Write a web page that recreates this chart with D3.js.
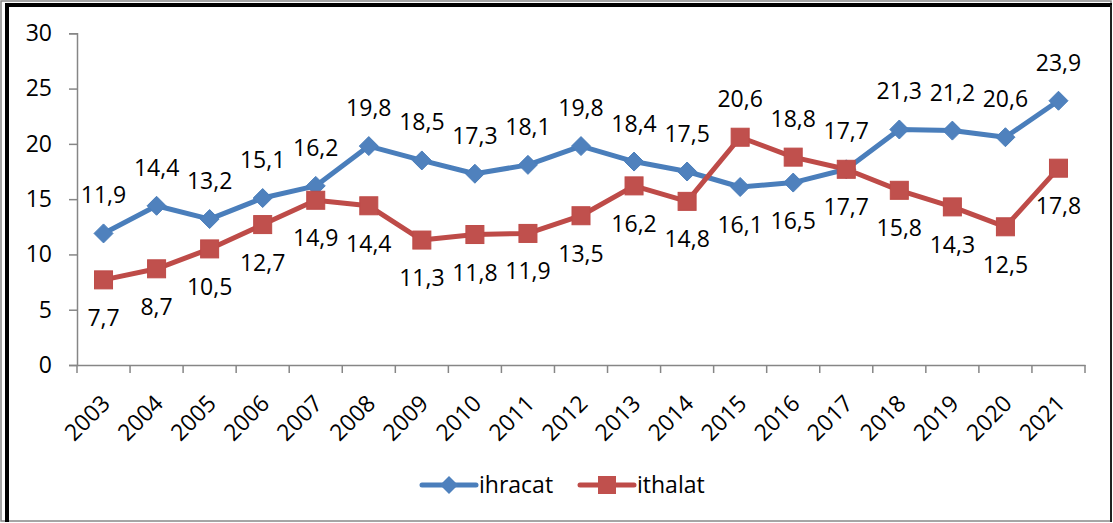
<!DOCTYPE html>
<html><head><meta charset="utf-8">
<script src="https://cdn.jsdelivr.net/npm/d3@7/dist/d3.min.js"></script>
<style>body{margin:0;background:#fff}svg{display:block}text{font-family:"Open Sans",sans-serif}</style>
</head><body><svg id="c" width="1113" height="523"></svg>
<script>
const years = ["2003","2004","2005","2006","2007","2008","2009","2010","2011","2012","2013","2014","2015","2016","2017","2018","2019","2020","2021"];
const ihracat = [11.9,14.4,13.2,15.1,16.2,19.8,18.5,17.3,18.1,19.8,18.4,17.5,16.1,16.5,17.7,21.3,21.2,20.6,23.9];
const ithalat = [7.7,8.7,10.5,12.7,14.9,14.4,11.3,11.8,11.9,13.5,16.2,14.8,20.6,18.8,17.7,15.8,14.3,12.5,17.8];
const yTicks = [0,5,10,15,20,25,30];
const seriesNames = ["ihracat","ithalat"];

const svg = d3.select("#c");
const FS = 23;
// border
svg.append("rect").attr("x",1).attr("y",1).attr("width",1110).attr("height",520).attr("fill","none").attr("stroke","#888").attr("stroke-width",1.5);
svg.append("line").attr("x1",7).attr("x2",7).attr("y1",3).attr("y2",522).attr("stroke","#000").attr("stroke-width",4);
svg.append("line").attr("x1",5).attr("x2",1112).attr("y1",5).attr("y2",5).attr("stroke","#000").attr("stroke-width",4);
svg.append("line").attr("x1",1111).attr("x2",1111).attr("y1",5).attr("y2",522).attr("stroke","#222").attr("stroke-width",2);

const x = d3.scaleBand().domain(years).range([77,1085]);
const y = d3.scaleLinear().domain([0,30]).range([365,33.3]);
const cx = d => x(d)+x.bandwidth()/2;

// y axis
const ya = svg.append("g").attr("transform","translate(77,0)").call(d3.axisLeft(y).tickValues(yTicks).tickSize(8).tickPadding(17));
ya.select(".domain").attr("stroke","#868686").attr("stroke-width",1.5);
ya.selectAll(".tick line").attr("stroke","#868686").attr("stroke-width",1.5);
ya.selectAll("text").attr("font-size",FS).attr("fill","#000");

// x axis
const xa = svg.append("g").attr("transform","translate(0,365)").call(d3.axisBottom(x).tickSize(0));
xa.select(".domain").attr("stroke","#868686").attr("stroke-width",1.5);
const edges = years.map(d=>x(d)).concat([1085]);
xa.selectAll(".edge").data(edges).enter().append("line").attr("x1",d=>d).attr("x2",d=>d).attr("y1",0).attr("y2",8).attr("stroke","#868686").attr("stroke-width",1.5);
xa.selectAll(".tick text").attr("font-size",FS).attr("fill","#000")
  .attr("text-anchor","end").attr("dy",null).attr("y",null)
  .attr("transform","translate(8,40) rotate(-45)");

const colors = {ihracat:{line:"#4A7EBB",fill:"#4F81BD"}, ithalat:{line:"#BE4B48",fill:"#C0504D"}};
const data = {ihracat, ithalat};
const line = d3.line().x((d,i)=>cx(years[i])).y(d=>y(d));
seriesNames.forEach(n=>{
  svg.append("path").datum(data[n]).attr("d",line).attr("fill","none").attr("stroke",colors[n].line).attr("stroke-width",5).attr("stroke-linejoin","round");
});
// markers
seriesNames.forEach(n=>{
  const g = svg.append("g");
  data[n].forEach((v,i)=>{
    const px = cx(years[i]), py = y(v);
    if(n==="ihracat"){
      g.append("path").attr("d",`M${px},${py-9.5}L${px+9.5},${py}L${px},${py+9.5}L${px-9.5},${py}Z`).attr("fill",colors[n].fill).attr("stroke",colors[n].line).attr("stroke-width",1);
    } else {
      g.append("rect").attr("x",px-9).attr("y",py-9).attr("width",18).attr("height",18).attr("fill",colors[n].fill).attr("stroke",colors[n].line).attr("stroke-width",1);
    }
  });
});
// data labels
const fmt = v => v.toFixed(1).replace(".",",");
seriesNames.forEach(n=>{
  const other = n==="ihracat"?ithalat:ihracat;
  data[n].forEach((v,i)=>{
    const o = other[i];
    const above = v>o || (v===o && n==="ihracat");
    svg.append("text").attr("x",cx(years[i])).attr("y", above ? y(v)-30 : y(v)+46)
      .attr("text-anchor","middle").attr("font-size",FS).attr("fill","#000").text(fmt(v));
  });
});
// legend
const lg = [{n:"ihracat",x:422},{n:"ithalat",x:580}];
lg.forEach(l=>{
  svg.append("line").attr("x1",l.x).attr("x2",l.x+54).attr("y1",485).attr("y2",485).attr("stroke",colors[l.n].line).attr("stroke-width",5).attr("stroke-linecap","round");
  const mx=l.x+27;
  if(l.n==="ihracat") svg.append("path").attr("d",`M${mx},${485-9}L${mx+9},485L${mx},${485+9}L${mx-9},485Z`).attr("fill",colors[l.n].fill);
  else svg.append("rect").attr("x",mx-9).attr("y",476).attr("width",18).attr("height",18).attr("fill",colors[l.n].fill);
  svg.append("text").attr("x",l.x+57).attr("y",493).attr("font-size",FS).attr("fill","#000").text(l.n);
});
</script></body></html>
